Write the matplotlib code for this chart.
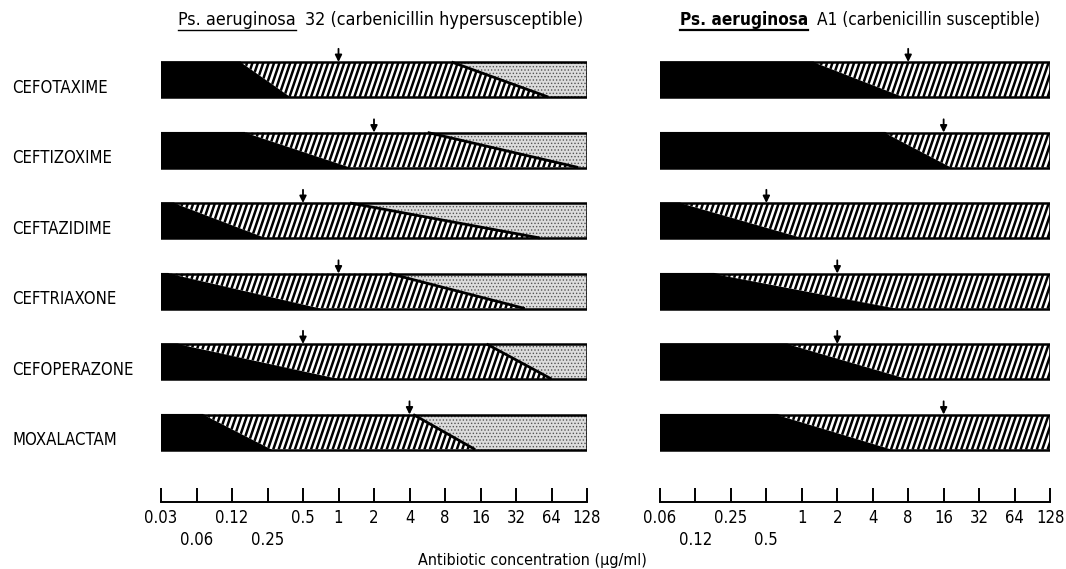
import numpy as np
import matplotlib
matplotlib.use('Agg')
import matplotlib.pyplot as plt
from matplotlib.patches import Polygon, Rectangle
from matplotlib.collections import LineCollection
from matplotlib.ticker import NullLocator, NullFormatter
import matplotlib.transforms as mtransforms
from matplotlib.lines import Line2D

plt.rcParams['font.family'] = ['DejaVu Sans']
plt.rcParams['font.stretch'] = 'condensed'
plt.rcParams['hatch.linewidth'] = 0.6

# ---------------- data ----------------
drugs = ["CEFOTAXIME", "CEFTIZOXIME", "CEFTAZIDIME", "CEFTRIAXONE", "CEFOPERAZONE", "MOXALACTAM"]

# Ps. aeruginosa 32 (carbenicillin hypersusceptible), concentrations in ug/ml
left_black_top = [0.147, 0.16, 0.04, 0.036, 0.043, 0.071]
left_black_bottom = [0.39, 1.25, 0.24, 0.70, 1.0, 0.27]
left_dot_top = [9.1, 5.7, 1.25, 2.7, 18.0, 4.3]
left_dot_bottom = [60.0, 108.0, 51.0, 38.0, 64.0, 14.4]
left_mic = [1, 2, 0.5, 1, 0.5, 4]
left_ticks = [0.03125, 0.0625, 0.125, 0.25, 0.5, 1, 2, 4, 8, 16, 32, 64, 128]
left_ticklabels = ["0.03", "\n0.06", "0.12", "\n0.25", "0.5", "1", "2", "4", "8", "16", "32", "64", "128"]

# Ps. aeruginosa A1 (carbenicillin susceptible)
right_black_top = [1.25, 5.1, 0.092, 0.18, 0.75, 0.62]
right_black_bottom = [7.2, 19.0, 1.0, 6.5, 7.8, 5.9]
right_mic = [8, 16, 0.5, 2, 2, 16]
right_ticks = [0.0625, 0.125, 0.25, 0.5, 1, 2, 4, 8, 16, 32, 64, 128]
right_ticklabels = ["0.06", "\n0.12", "0.25", "\n0.5", "1", "2", "4", "8", "16", "32", "64", "128"]

left_title_a = "Ps. aeruginosa"
left_title_b = "32 (carbenicillin hypersusceptible)"
right_title_a = "Ps. aeruginosa"
right_title_b = "A1 (carbenicillin susceptible)"
xlabel = "Antibiotic concentration (\u03bcg/ml)"

# ---------------- layout ----------------
W, H = 1066, 569
fig = plt.figure(figsize=(W / 100, H / 100), dpi=100)

ROW0 = 79.5      # pixel centre of first bar
ROWSTEP = 70.5   # pixel step between bars
AX_TOP = 40
AX_BOT = 502
HALF = 17.5 / ROWSTEP


def make_ax(x0, x1):
    return fig.add_axes([x0 / W, 1 - AX_BOT / H, (x1 - x0) / W, (AX_BOT - AX_TOP) / H])


def draw_panel(ax, xmin, xmax, btop, bbot, dtop, dbot, mic, ticks, labels, width_px):
    ax.set_xscale('log', base=2)
    ax.set_xlim(xmin, xmax)
    ax.set_ylim((AX_BOT - ROW0) / ROWSTEP, (AX_TOP - ROW0) / ROWSTEP)
    blend = mtransforms.blended_transform_factory(ax.transAxes, ax.transData)
    spacing = 5.4 / width_px
    slant = 12.0 / width_px
    for i in range(len(btop)):
        top = i - HALF
        bot = i + HALF
        has_dot = dtop is not None
        rt = dtop[i] if has_dot else xmax
        rb = dbot[i] if has_dot else xmax
        # black region
        ax.add_patch(Polygon([(xmin, top), (btop[i], top), (bbot[i], bot), (xmin, bot)],
                             closed=True, fc='black', ec='black', lw=0.8, zorder=2))
        # hatched region
        hp = Polygon([(btop[i], top), (rt, top), (rb, bot), (bbot[i], bot)],
                     closed=True, fc='white', ec='none', lw=0, zorder=2)
        ax.add_patch(hp)
        xs = np.arange(-slant, 1 + spacing, spacing)
        segs = [[(x, bot), (x + slant, top)] for x in xs]
        lc = LineCollection(segs, transform=blend, colors='black', linewidths=1.8, zorder=3)
        ax.add_collection(lc)
        lc.set_clip_path(hp)
        # stippled region
        if has_dot:
            ax.add_patch(Polygon([(rt, top), (xmax, top), (xmax, bot), (rb, bot)],
                                 closed=True, fc='#dcdcdc', ec='#555555', lw=0,
                                 hatch='.....', zorder=2))
            ax.plot([rt, rb], [top, bot], color='black', lw=2.0, zorder=4,
                    solid_capstyle='butt')
        # outline
        ax.add_patch(Rectangle((xmin, top), xmax - xmin, 2 * HALF, fill=False,
                               ec='black', lw=1.8, zorder=5))
        # MIC arrow
        ax.annotate('', xy=(mic[i], top), xytext=(0, 9.5), textcoords='offset points',
                    arrowprops=dict(arrowstyle='-|>', color='black', lw=1.3,
                                    mutation_scale=10, shrinkA=0, shrinkB=0),
                    annotation_clip=False, zorder=6)
    ax.set_xticks(ticks)
    ax.set_xticklabels(labels)
    ax.xaxis.set_minor_locator(NullLocator())
    ax.xaxis.set_minor_formatter(NullFormatter())
    ax.tick_params(axis='x', direction='in', length=10, width=1.4, pad=5, labelsize=12)
    for t in ax.get_xticklabels():
        t.set_linespacing(1.3)
    ax.set_yticks([])
    for s in ['top', 'left', 'right']:
        ax.spines[s].set_visible(False)
    ax.spines['bottom'].set_linewidth(1.4)
    ax.patch.set_alpha(0)


axL = make_ax(161, 587)
draw_panel(axL, left_ticks[0], left_ticks[-1], left_black_top, left_black_bottom,
           left_dot_top, left_dot_bottom, left_mic, left_ticks, left_ticklabels, 587 - 161)
axR = make_ax(660, 1050)
draw_panel(axR, right_ticks[0], right_ticks[-1], right_black_top, right_black_bottom,
           None, None, right_mic, right_ticks, right_ticklabels, 1050 - 660)

# row labels
lab_tr = mtransforms.blended_transform_factory(fig.transFigure, axL.transData)
for i, name in enumerate(drugs):
    axL.text(12 / W, i + 0.12, name, transform=lab_tr, ha='left', va='center', fontsize=12)

fig.text(532 / W, 1 - 561 / H, xlabel, ha='center', va='center', fontsize=11.5)

# titles with underlined organism name
fig.canvas.draw()
renderer = fig.canvas.get_renderer()


def title(x_px, y_px, part_a, part_b, weight_a, size):
    ta = fig.text(x_px / W, 1 - y_px / H, part_a, ha='left', va='center', fontsize=size,
                  fontweight=weight_a)
    bb = ta.get_window_extent(renderer=renderer)
    fig.text((bb.x1 + 9) / W, 1 - y_px / H, part_b, ha='left', va='center', fontsize=size)
    yline = (bb.y0 - 1) / H
    fig.add_artist(Line2D([bb.x0 / W, bb.x1 / W], [yline, yline], color='black',
                          lw=1.6 if weight_a == 'bold' else 1.0,
                          transform=fig.transFigure))


title(178, 20, left_title_a, left_title_b, 'normal', 12.9)
title(680, 20, right_title_a, right_title_b, 'bold', 12.3)

fig.savefig('out.png', dpi=100)
